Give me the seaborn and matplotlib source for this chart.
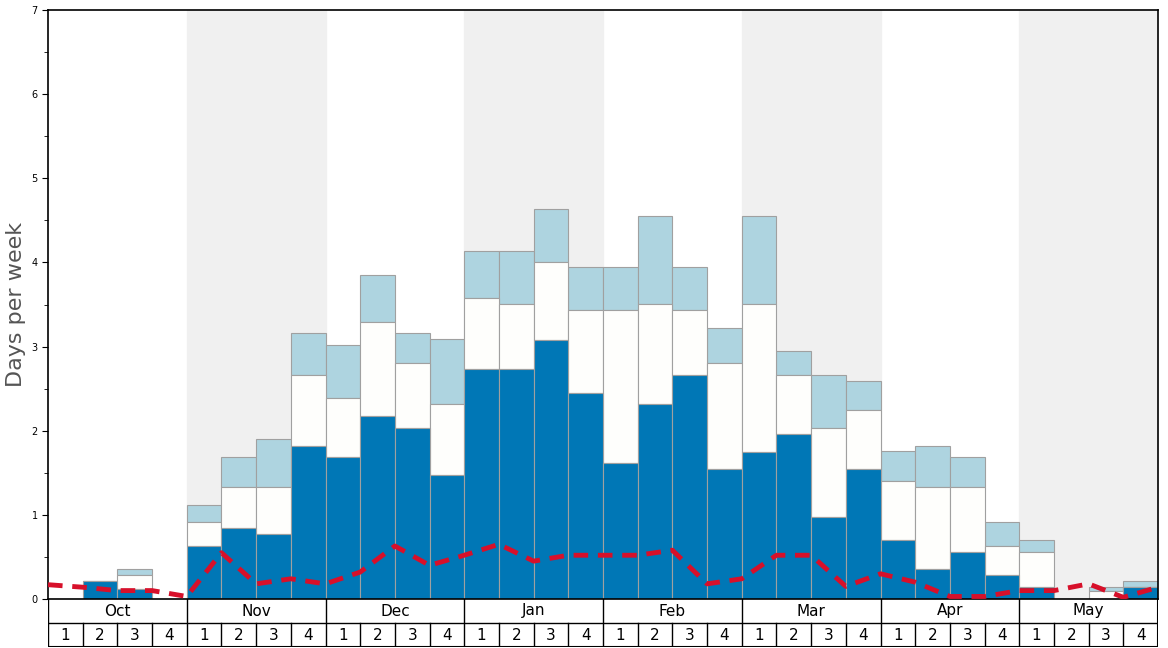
import numpy as np
import seaborn as sns
from matplotlib import pyplot as plt

months = ["Oct", "Nov", "Dec", "Jan", "Feb", "Mar", "Apr", "May"]
week_labels = ["1", "2", "3", "4"]

# cumulative tops of the three stacked layers, one value per week
dark = [0, 0.21, 0.12, 0, 0.63, 0.84, 0.77, 1.82, 1.69, 2.18, 2.03, 1.47,
        2.73, 2.73, 3.08, 2.45, 1.62, 2.32, 2.66, 1.55, 1.75, 1.96, 0.98, 1.55,
        0.70, 0.36, 0.56, 0.29, 0.14, 0, 0, 0.14]
white = [0, 0.21, 0.29, 0, 0.92, 1.33, 1.33, 2.66, 2.39, 3.29, 2.81, 2.32,
         3.58, 3.51, 4.00, 3.44, 3.44, 3.51, 3.44, 2.81, 3.51, 2.66, 2.03, 2.25,
         1.40, 1.33, 1.33, 0.63, 0.56, 0, 0.10, 0.14]
light = [0, 0.21, 0.36, 0, 1.12, 1.69, 1.90, 3.16, 3.02, 3.85, 3.16, 3.09,
         4.14, 4.14, 4.63, 3.94, 3.94, 4.55, 3.94, 3.22, 4.55, 2.95, 2.66, 2.59,
         1.76, 1.82, 1.69, 0.92, 0.70, 0, 0.14, 0.21]
# dashed line, values at week boundaries
trend = [0.17, 0.14, 0.10, 0.10, 0.03, 0.55, 0.18, 0.24, 0.18, 0.32, 0.63,
         0.40, 0.52, 0.65, 0.45, 0.52, 0.52, 0.52, 0.58, 0.18, 0.24, 0.52,
         0.52, 0.15, 0.30, 0.20, 0.03, 0.03, 0.10, 0.10, 0.18, 0.02, 0.14]

n = len(dark)
idx = np.arange(n)
fig = plt.figure(figsize=(11.68, 6.48), dpi=100)
ax = fig.add_axes([48 / 1168, 49 / 648, 1110 / 1168, 589 / 648])

for m in range(1, len(months), 2):
    ax.axvspan(m * 4 - 0.5, m * 4 + 3.5, color="#f0f0f0", zorder=0)

layers = [(light, np.array(white), "#add4e0"),
          (np.array(white) - np.array(dark), np.array(dark), "#fefefc"),
          (dark, np.zeros(n), "#0077b6")]
for top, bottom, col in [(np.array(light) - np.array(white), np.array(white), "#aed4e0"),
                         (np.array(white) - np.array(dark), np.array(dark), "#fefefc"),
                         (np.array(dark), np.zeros(n), "#0077b6")]:
    sns.barplot(x=idx, y=top, bottom=bottom, color=col, width=1, ax=ax,
                edgecolor="#a0a0a0", linewidth=0.8, saturation=1, zorder=2)

ax.plot(np.arange(n + 1) - 0.5, trend, color="#d7102a", linestyle=(0, (3, 2)),
        linewidth=3.5, zorder=3)

ax.set_xlim(-0.5, n - 0.5)
ax.set_ylim(0, 7)
ax.set_xticks([])
ax.set_xlabel("")
ax.set_yticks(range(8))
ax.set_yticks(np.arange(0.5, 7, 1), minor=True)
ax.tick_params(axis="y", labelsize=7, length=4)
ax.tick_params(axis="y", which="minor", length=3)
ax.set_ylabel("Days per week", fontsize=16, color="#555555")
for s in ax.spines.values():
    s.set_linewidth(1.2)

# month / week label table
tb = fig.add_axes([48 / 1168, 1 / 648, 1110 / 1168, 48 / 648])
tb.set_xlim(-0.5, n - 0.5)
tb.set_ylim(0, 2)
tb.axis("off")
tb.axhline(1, color="black", lw=1)
tb.axhline(0, color="black", lw=1.5)
for m, name in enumerate(months):
    tb.axvline(m * 4 - 0.5, color="black", lw=1)
    tb.text(m * 4 + 1.5, 1.5, name, ha="center", va="center", fontsize=11)
    for w in range(4):
        if w > 0:
            tb.plot([m * 4 + w - 0.5] * 2, [0, 1], color="black", lw=1)
        tb.text(m * 4 + w, 0.5, week_labels[w], ha="center", va="center", fontsize=11)
tb.axvline(n - 0.5, color="black", lw=1.5)

fig.savefig("out.png", dpi=100)
